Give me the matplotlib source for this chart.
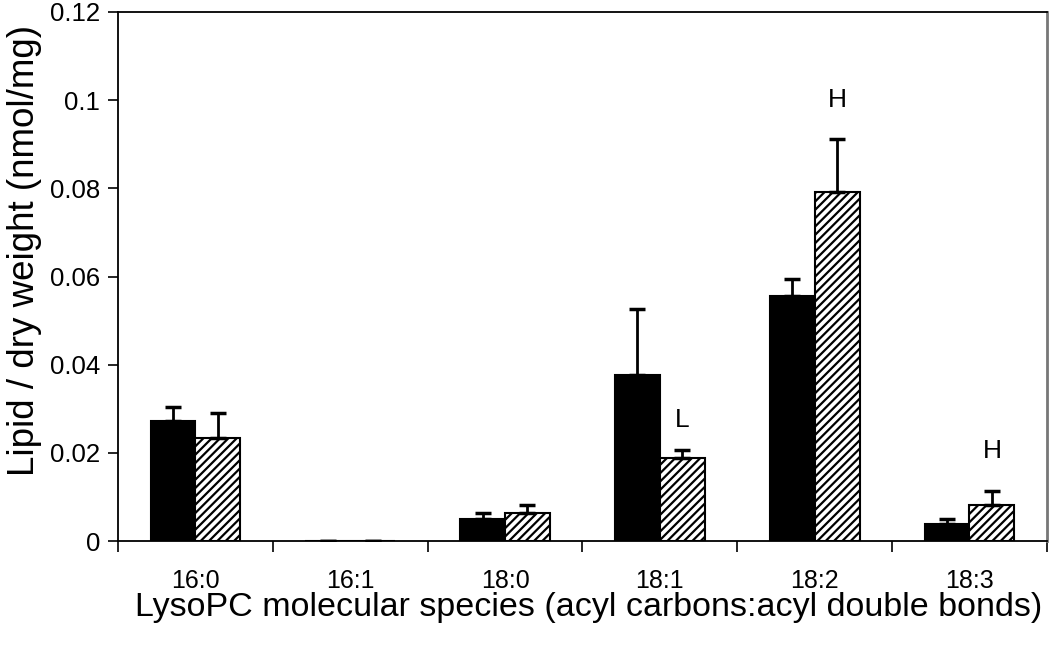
import matplotlib.pyplot as plt
import numpy as np

plt.rcParams['font.family'] = ['Liberation Sans', 'DejaVu Sans']
plt.rcParams['hatch.linewidth'] = 1.6

# LysoPC species and values
species = ["16:0", "16:1", "18:0", "18:1", "18:2", "18:3"]
black_vals = [0.0273, 0.0, 0.0050, 0.0377, 0.0555, 0.0039]
black_err = [0.0032, 0.0, 0.0014, 0.0150, 0.0040, 0.0011]
hatch_vals = [0.0234, 0.0, 0.0064, 0.0189, 0.0791, 0.0082]
hatch_err = [0.0056, 0.0, 0.0018, 0.0018, 0.0120, 0.0032]
marks = ["", "", "", "L", "H", "H"]
mark_y = [0, 0, 0, 0.0275, 0.1000, 0.0205]

fig = plt.figure(figsize=(10.5, 6.45), dpi=100)
ax = fig.add_axes([0.1124, 0.1612, 0.8846, 0.8202])

x = np.arange(len(species))
w = 0.29
ekw = dict(ecolor="black", elinewidth=2, capsize=6, capthick=2.5)

ax.bar(x - w / 2, black_vals, w, color="black", edgecolor="black", linewidth=1.5,
       yerr=[np.zeros(len(x)), black_err], error_kw=ekw)
ax.bar(x + w / 2, hatch_vals, w, color="white", edgecolor="black", linewidth=1.5, hatch="////",
       yerr=[np.zeros(len(x)), hatch_err], error_kw=ekw)

for i, m in enumerate(marks):
    if m:
        ax.text(x[i] + w / 2, mark_y[i], m, ha="center", va="center", fontsize=19)

ax.set_xlim(-0.5, len(species) - 0.5)
ax.set_ylim(0, 0.12)
ax.set_yticks([0, 0.02, 0.04, 0.06, 0.08, 0.1, 0.12])
ax.set_yticklabels(["0", "0.02", "0.04", "0.06", "0.08", "0.1", "0.12"], fontsize=18.5)

# category labels centred, tick marks at the boundaries
ax.set_xticks(np.arange(len(species) + 1) - 0.5)
ax.set_xticklabels([])
ax.set_xticks(x, minor=True)
ax.set_xticklabels(species, minor=True, fontsize=18)
ax.tick_params(axis="x", which="minor", length=0, pad=20)
ax.tick_params(axis="x", which="major", length=8, width=1.2, direction="out")
ax.tick_params(axis="y", length=7, width=1.2, direction="out", pad=6)

ax.spines["right"].set_color("#777777")
ax.spines["right"].set_linewidth(2)
for s in ["left", "top", "bottom"]:
    ax.spines[s].set_linewidth(1.3)

ax.set_xlabel("LysoPC molecular species (acyl carbons:acyl double bonds)", fontsize=24.5)
ax.xaxis.set_label_coords(0.507, -0.097)
ax.set_ylabel("Lipid / dry weight (nmol/mg)", fontsize=26.5)
ax.yaxis.set_label_coords(-0.082, 0.55)

fig.savefig("out.png", dpi=100)
